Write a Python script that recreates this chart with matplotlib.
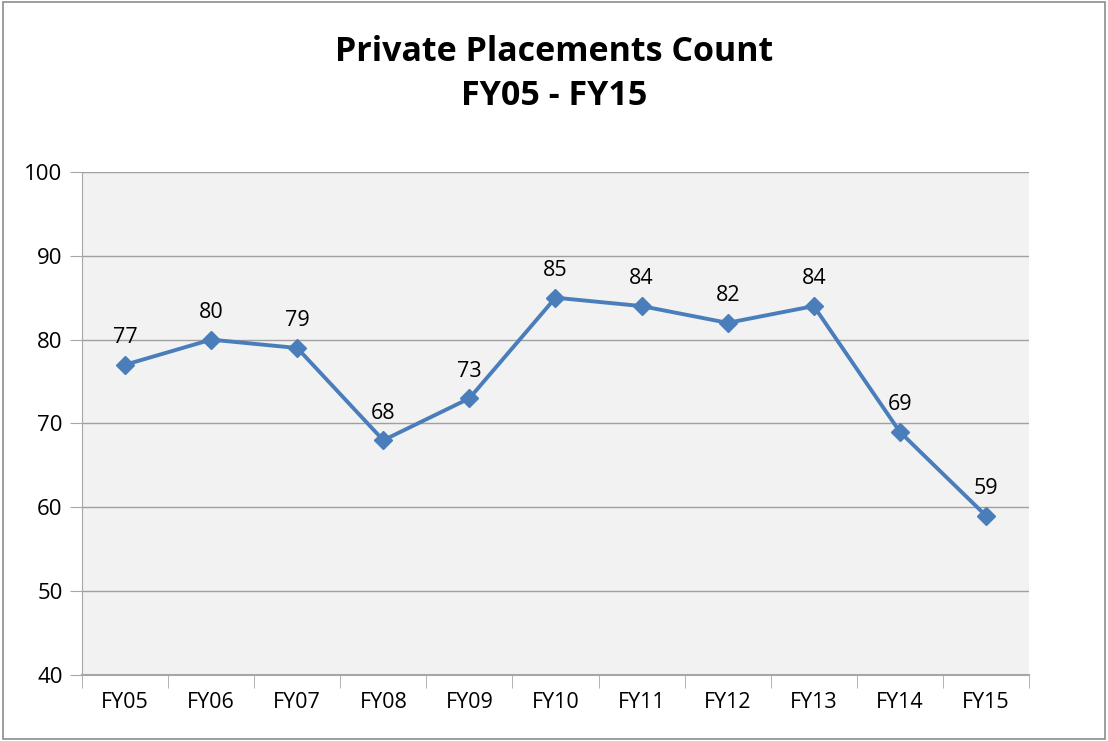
import matplotlib.pyplot as plt
from matplotlib.patches import Rectangle

years = ["FY05", "FY06", "FY07", "FY08", "FY09", "FY10", "FY11", "FY12", "FY13", "FY14", "FY15"]
counts = [77, 80, 79, 68, 73, 85, 84, 82, 84, 69, 59]
yticks = [40, 50, 60, 70, 80, 90, 100]

plt.rcParams['font.family'] = ['Open Sans', 'DejaVu Sans']

fig = plt.figure(figsize=(11.08, 7.41), dpi=100)
ax = fig.add_axes([0.074, 0.089, 0.8547, 0.679])
ax.set_facecolor('#f2f2f2')

# outer chart border
fig.patches.append(Rectangle((0.003, 0.003), 0.994, 0.994, transform=fig.transFigure,
                             fill=False, edgecolor='#8c8c8c', linewidth=1.2))

x = list(range(len(years)))
ax.plot(x, counts, color='#4a7ebb', linewidth=2.8, marker='D', markersize=9, zorder=3)
for xi, v in zip(x, counts):
    ax.annotate(str(v), (xi, v), xytext=(0, 12), textcoords='offset points',
                ha='center', va='bottom', fontsize=15.5)

ax.set_xlim(-0.5, len(years) - 0.5)
ax.set_ylim(40, 100)
ax.set_yticks(yticks)
ax.set_xticks(x)
ax.set_xticklabels(years)
ax.set_xticks([i - 0.5 for i in range(len(years) + 1)], minor=True)
ax.tick_params(axis='x', which='major', length=0, labelsize=15.5, pad=12)
ax.tick_params(axis='x', which='minor', length=9, color='#a6a6a6', direction='out')
ax.tick_params(axis='y', length=9, color='#a6a6a6', labelsize=16, pad=5)
ax.grid(axis='y', color='#a0a0a0', linewidth=1)
ax.set_axisbelow(True)

for s in ['top', 'right']:
    ax.spines[s].set_visible(False)
ax.spines['left'].set_color('#a6a6a6')
ax.spines['bottom'].set_color('#a6a6a6')
ax.spines['bottom'].set_linewidth(1.5)

fig.text(0.5, 0.9, "Private Placements Count\nFY05 - FY15", ha='center', va='center',
         fontsize=24.5, fontweight='bold', linespacing=1.4)

fig.savefig('out.png', dpi=100)
